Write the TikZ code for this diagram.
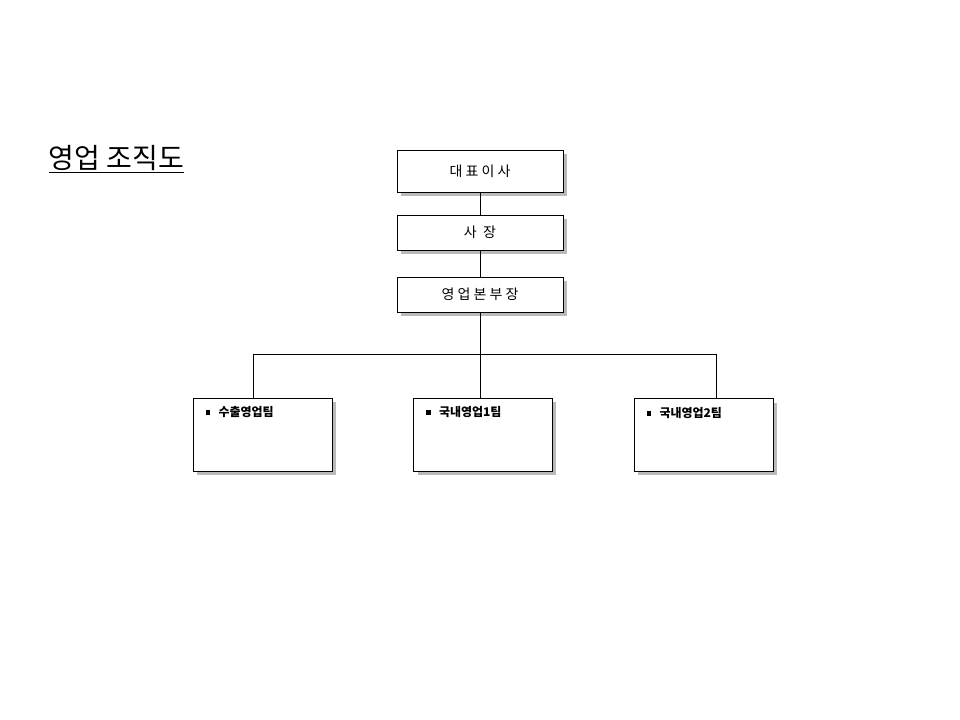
\documentclass[tikz,border=0pt]{standalone}
\usepackage{fontspec}
\newfontfamily\kr{Noto Sans CJK KR}
\usetikzlibrary{positioning, shadows}
\newcommand{\bulletsq}{\rule[0.25ex]{3.5pt}{3.5pt}}

\begin{document}
\begin{tikzpicture}[%
    x=0.75pt, y=-0.75pt,
    every node/.style={font=\kr},
    rankbox/.style={draw, fill=white, minimum width=124.5pt, inner sep=0pt,
        drop shadow={shadow xshift=3pt, shadow yshift=-3pt, fill=black!45, opacity=0.6}},
    teambox/.style={draw, fill=white, minimum width=104pt, minimum height=54.5pt,
        drop shadow={shadow xshift=3pt, shadow yshift=-3pt, fill=black!45, opacity=0.6}},
    teamtext/.style={font=\kr\bfseries\fontsize{9}{10}\selectfont, anchor=north west},
    ]

\useasboundingbox (0,0) rectangle (960,720);

%==================================================
% Title
%==================================================
\node[anchor=west, font=\kr\fontsize{21}{24}\selectfont] (title) at (44,159)
    {\underline{영업 조직도}};

%==================================================
% Upper boxes
%==================================================
\node[rankbox, minimum height=31.5pt] (ceo) at (480,171)
    {\fontsize{10.5}{12}\selectfont 대\ 표\ 이\ 사};
\node[rankbox, minimum height=26pt] (pres) at (480,232.5)
    {\fontsize{10.5}{12}\selectfont 사\ \ 장};
\node[rankbox, minimum height=26pt] (head) at (480,294.5)
    {\fontsize{10.5}{12}\selectfont 영\ 업\ 본\ 부\ 장};

%==================================================
% Teams
%==================================================
\coordinate (busl) at (253,354);
\coordinate (busm) at (480,354);
\coordinate (busr) at (716,354);

\node[teambox] (t1) at (262.5,434.5) {};
\node[teambox] (t2) at (483,434.5) {};
\node[teambox] (t3) at (703.5,435) {};

\node[teamtext] (l1) at ([xshift=6pt,yshift=-3pt]t1.north west) {\bulletsq\ \ \ 수출영업팀};
\node[teamtext] (l2) at ([xshift=6pt,yshift=-3pt]t2.north west) {\bulletsq\ \ \ 국내영업1팀};
\node[teamtext] (l3) at ([xshift=6pt,yshift=-3pt]t3.north west) {\bulletsq\ \ \ 국내영업2팀};

%==================================================
% Lines
%==================================================
\draw (ceo) -- (pres);
\draw (pres) -- (head);
\draw (head) -- (busm);
\draw (busl) -- (busr);
\draw (busl) -- (busl |- t1.north);
\draw (busm) -- (t2.north -| busm);
\draw (busr) -- (busr |- t3.north);

\end{tikzpicture}
\end{document}
